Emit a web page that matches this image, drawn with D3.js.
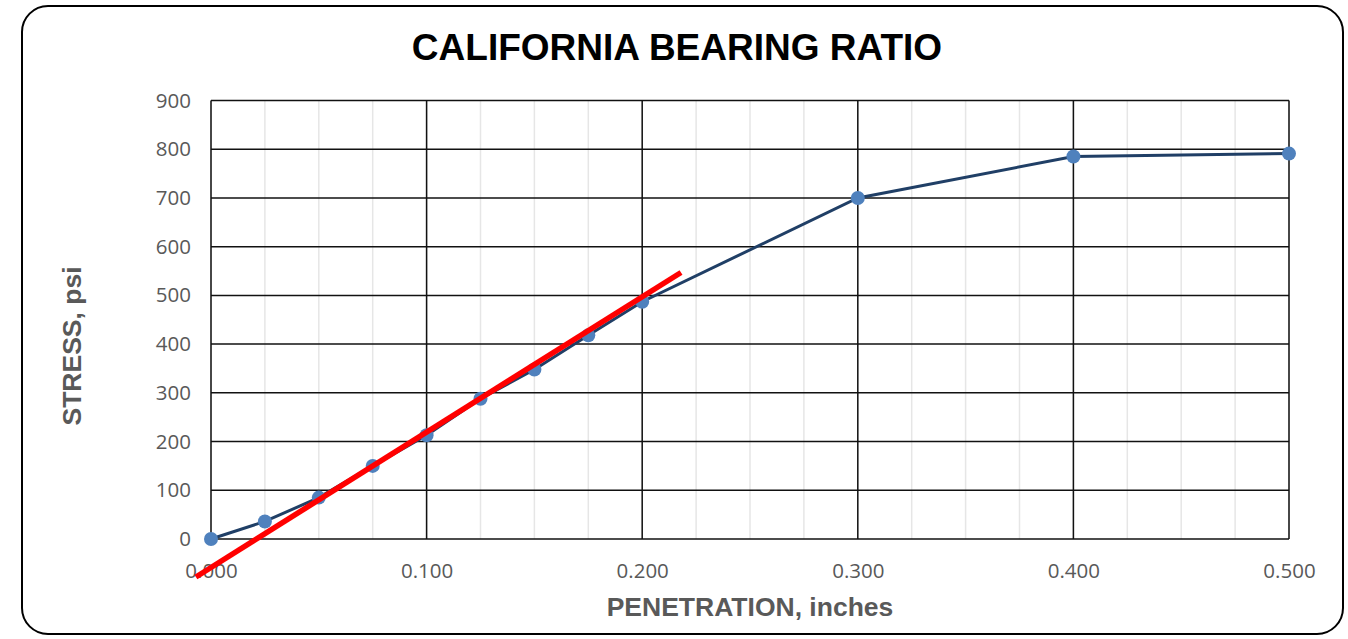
<!DOCTYPE html>
<html><head><meta charset="utf-8">
<script src="https://cdn.jsdelivr.net/npm/d3@7"></script>
<style>body{margin:0;background:#fff}svg{display:block}</style>
</head><body>
<svg id="c" width="1348" height="639"></svg>
<script>
const penetration = [0, 0.025, 0.05, 0.075, 0.1, 0.125, 0.15, 0.175, 0.2, 0.3, 0.4, 0.5];
const stress = [0, 36, 85, 150, 213, 288, 348, 418, 487, 700, 785, 791];
const fitLineX = [-0.007, 0.218];
const fitLineY = [-78, 547];
const xTicks = [0, 0.1, 0.2, 0.3, 0.4, 0.5];
const xMinor = d3.range(0, 0.5001, 0.025);
const yTicks = [0, 100, 200, 300, 400, 500, 600, 700, 800, 900];

const svg = d3.select("#c");
const L = 211, R = 1289, T = 100.5, B = 539;
const x = d3.scaleLinear().domain([0, 0.5]).range([L, R]);
const y = d3.scaleLinear().domain([0, 900]).range([B, T]);

svg.append("rect").attr("x", 22).attr("y", 6).attr("width", 1321).attr("height", 628)
  .attr("rx", 26).attr("fill", "#fff").attr("stroke", "#000").attr("stroke-width", 2);

svg.append("text").attr("x", 677).attr("y", 60).attr("text-anchor", "middle")
  .attr("font-family", "Liberation Sans, Arial, sans-serif").attr("font-weight", "bold")
  .attr("font-size", 37).attr("fill", "#000").text("CALIFORNIA BEARING RATIO");

const g = svg.append("g");
g.selectAll(".minor").data(xMinor).enter().append("line")
  .attr("x1", d => x(d)).attr("x2", d => x(d)).attr("y1", T).attr("y2", B)
  .attr("stroke", "#e6e6e6").attr("stroke-width", 1.5);
g.selectAll(".hg").data(yTicks).enter().append("line")
  .attr("x1", L).attr("x2", R).attr("y1", d => y(d)).attr("y2", d => y(d))
  .attr("stroke", "#111").attr("stroke-width", 1.5);
g.selectAll(".vg").data(xTicks).enter().append("line")
  .attr("x1", d => x(d)).attr("x2", d => x(d)).attr("y1", T).attr("y2", B)
  .attr("stroke", "#111").attr("stroke-width", 1.5);

const xAxis = svg.append("g").attr("transform", `translate(0,${B})`)
  .call(d3.axisBottom(x).tickValues(xTicks).tickFormat(d3.format(".3f")).tickSize(0).tickPadding(24));
xAxis.select(".domain").remove();
xAxis.selectAll("text").attr("font-family", "Open Sans, sans-serif").attr("font-size", 20.5).attr("fill", "#595959");

const yAxis = svg.append("g").attr("transform", `translate(${L},0)`)
  .call(d3.axisLeft(y).tickValues(yTicks).tickFormat(d3.format("d")).tickSize(0).tickPadding(20));
yAxis.select(".domain").remove();
yAxis.selectAll("text").attr("font-family", "Open Sans, sans-serif").attr("font-size", 20.5).attr("fill", "#595959");

svg.append("text").attr("x", 750).attr("y", 616).attr("text-anchor", "middle")
  .attr("font-family", "Liberation Sans, Arial, sans-serif").attr("font-weight", "bold")
  .attr("font-size", 26.5).attr("fill", "#595959").text("PENETRATION, inches");
svg.append("text").attr("transform", "translate(81,346) rotate(-90)").attr("text-anchor", "middle")
  .attr("font-family", "Liberation Sans, Arial, sans-serif").attr("font-weight", "bold")
  .attr("font-size", 26.5).attr("fill", "#595959").text("STRESS, psi");

const pts = penetration.map((p, i) => [p, stress[i]]);
svg.append("path").datum(pts)
  .attr("d", d3.line().x(d => x(d[0])).y(d => y(d[1])))
  .attr("fill", "none").attr("stroke", "#203f66").attr("stroke-width", 3);
svg.selectAll(".pt").data(pts).enter().append("circle")
  .attr("cx", d => x(d[0])).attr("cy", d => y(d[1])).attr("r", 7).attr("fill", "#4f81bd");

svg.append("line").attr("x1", x(fitLineX[0])).attr("y1", y(fitLineY[0]))
  .attr("x2", x(fitLineX[1])).attr("y2", y(fitLineY[1]))
  .attr("stroke", "#ff0000").attr("stroke-width", 5.5);
</script>
</body></html>
